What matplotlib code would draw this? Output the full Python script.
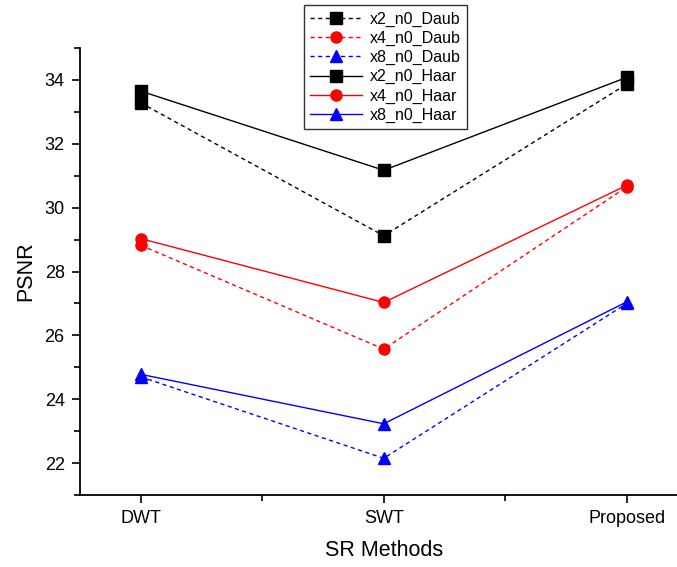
import matplotlib
matplotlib.use("Agg")
import matplotlib.pyplot as plt
from matplotlib.ticker import MultipleLocator

plt.rcParams['font.family'] = ['Liberation Sans', 'DejaVu Sans']

methods = ["DWT", "SWT", "Proposed"]

x2_daub = [33.28, 29.12, 33.87]
x4_daub = [28.82, 25.57, 30.65]
x8_daub = [24.70, 22.15, 27.00]
x2_haar = [33.65, 31.17, 34.08]
x4_haar = [29.03, 27.03, 30.70]
x8_haar = [24.78, 23.23, 27.05]

series = [
    ("x2_n0_Daub", x2_daub, "black", "--", "s"),
    ("x4_n0_Daub", x4_daub, "red", "--", "o"),
    ("x8_n0_Daub", x8_daub, "blue", "--", "^"),
    ("x2_n0_Haar", x2_haar, "black", "-", "s"),
    ("x4_n0_Haar", x4_haar, "red", "-", "o"),
    ("x8_n0_Haar", x8_haar, "blue", "-", "^"),
]

fig = plt.figure(figsize=(6.77, 5.67), dpi=100)
W, H = 677, 567
# axes runs a bit past the right edge, like in the original
ax = fig.add_axes([80 / W, (H - 495) / H, 607.5 / W, 447 / H])

xs = list(range(len(methods)))
for name, vals, col, ls, mk in series:
    line, = ax.plot(xs, vals, color=col, ls=ls, lw=1.0, marker=mk,
                    markersize=8, label=name)
    if ls == "--":
        line.set_dashes((3, 2.5))

ax.set_xlim(-0.25, 2.25)
ax.set_ylim(21, 35)
ax.set_xticks(xs)
ax.set_xticklabels(methods)
ax.xaxis.set_minor_locator(MultipleLocator(0.5))
ax.set_yticks([22, 24, 26, 28, 30, 32, 34])
ax.yaxis.set_minor_locator(MultipleLocator(1))

ax.spines['top'].set_visible(False)
ax.spines['right'].set_visible(False)
ax.spines['left'].set_linewidth(1.3)
ax.spines['bottom'].set_linewidth(1.3)
ax.tick_params(which='major', direction='out', length=6, width=1.2, labelsize=13, pad=5)
ax.tick_params(which='minor', direction='out', length=4, width=1.2)

ax.set_xlabel("SR Methods", fontsize=15.5, labelpad=9)
ax.set_ylabel("PSNR", fontsize=15.5, labelpad=6)

leg = ax.legend(loc='upper left', bbox_to_anchor=(304 / W, 1 - 5 / H),
                bbox_transform=fig.transFigure, fontsize=11.5, frameon=True,
                fancybox=False, edgecolor='black', handlelength=3.2,
                labelspacing=0.26, borderpad=0.4, handletextpad=0.5,
                borderaxespad=0)
leg.get_frame().set_linewidth(1.0)

fig.savefig("out.png", dpi=100)
